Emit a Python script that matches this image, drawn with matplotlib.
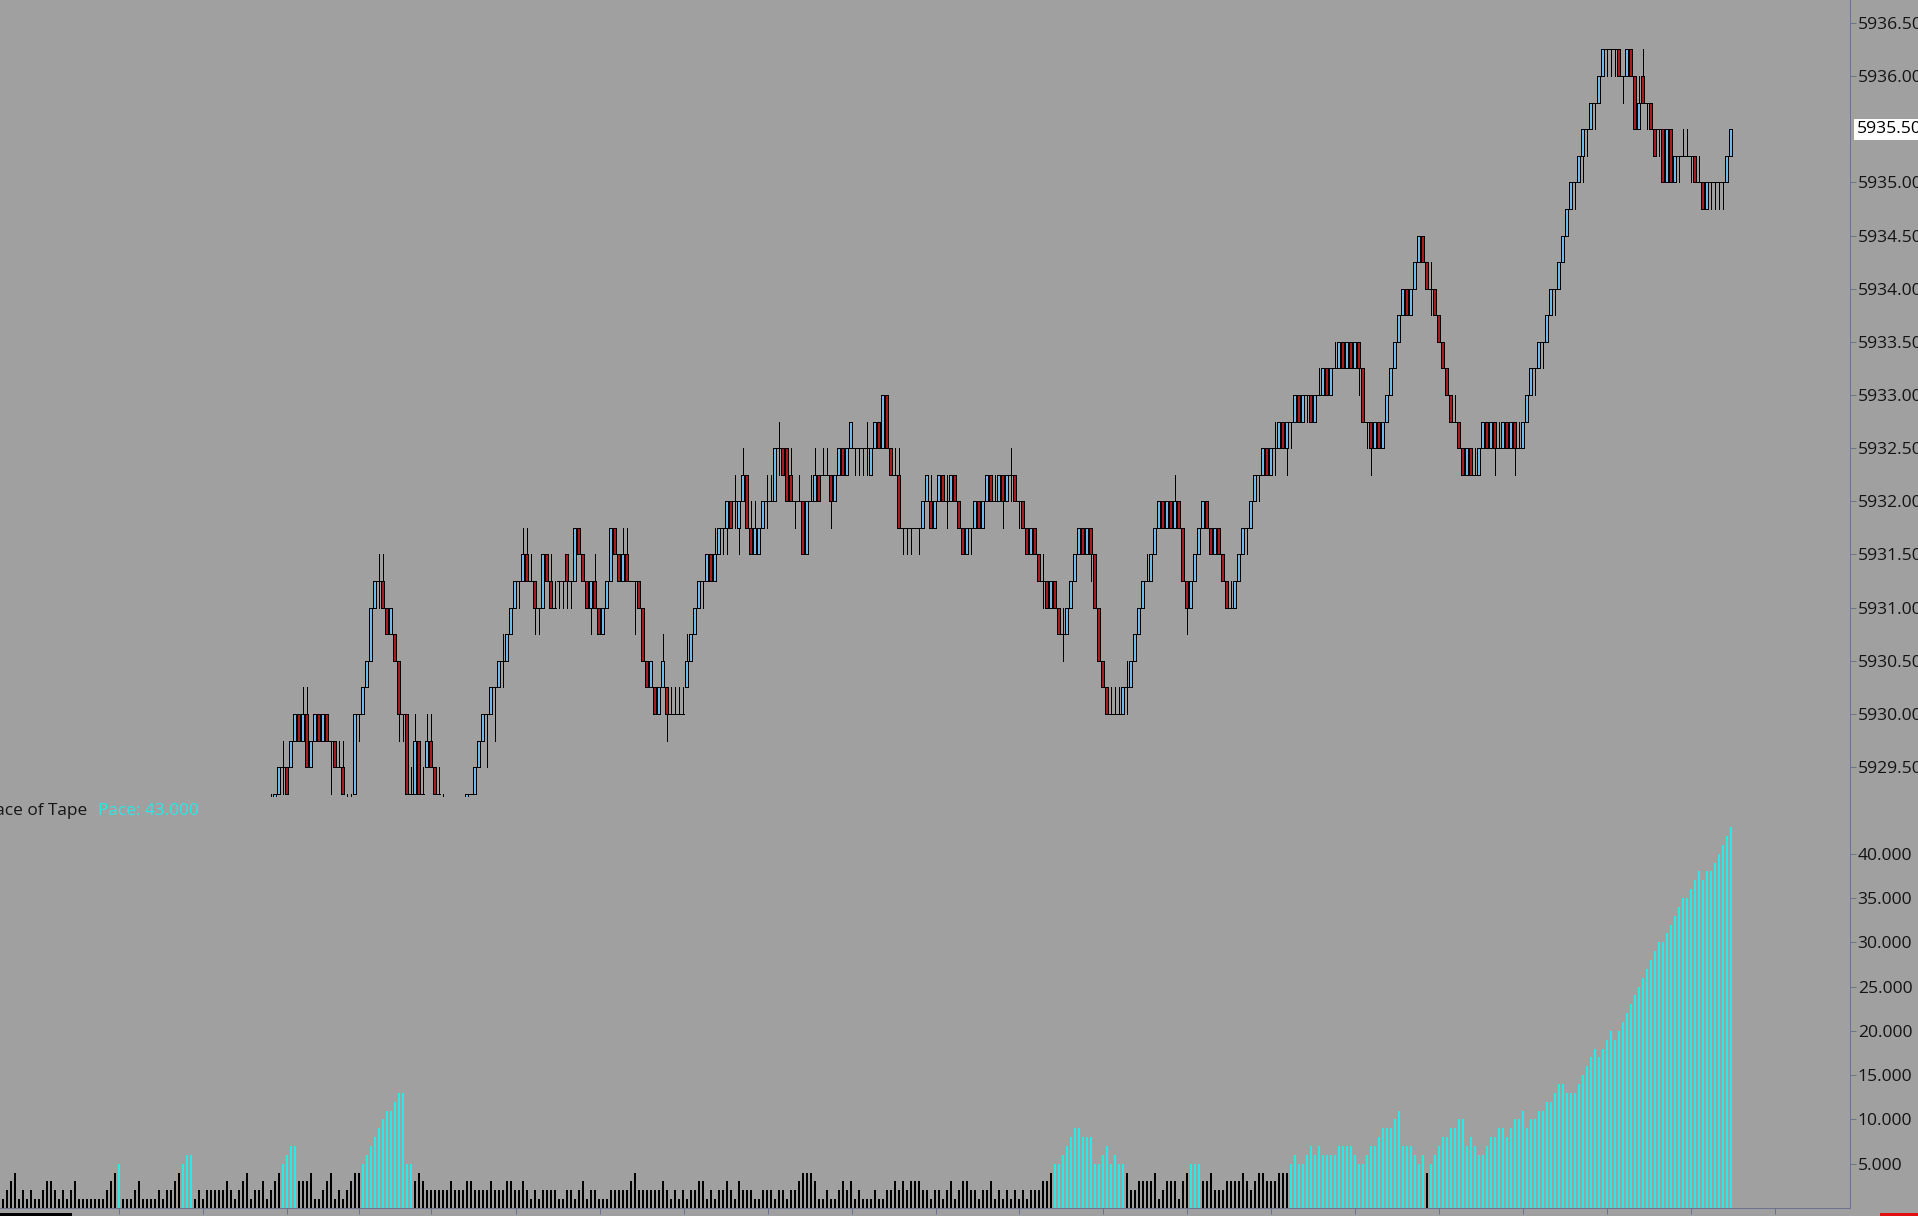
import matplotlib
matplotlib.use("Agg")
import matplotlib.pyplot as plt
from matplotlib.patches import Rectangle
import numpy as np

W, H = 1918, 1216
BG = "#a0a0a0"
AXIS = "#6b7391"
UP = "#74b8e8"
DOWN = "#a81c1c"
CYAN = "#2de6e6"

plt.rcParams['font.family'] = ['Open Sans', 'DejaVu Sans']

BASE = 5929.25
TICK = 0.25
FIRST_PRICE_BAR = 67
last_price = 5935.50

# price bars, in ticks above 5929.25 (bars from index 67 on)
bar_open = [
    -1, -1, 0, 1, 1, 1, 2, 3, 2, 3, 1, 2, 3, 2, 3, 2, 2, 1, 1, -1,
    -1, 0, 3, 3, 4, 5, 7, 8, 8, 7, 6, 6, 5, 3, 3, 0, 0, 2, 0, 1,
    2, 1, 0, -1, -2, -2, -3, -2, -2, -1, 0, 0, 1, 2, 3, 3, 4, 4, 5, 5,
    6, 7, 8, 8, 9, 8, 8, 7, 7, 9, 8, 7, 8, 8, 9, 8, 8, 10, 9, 8,
    7, 8, 7, 6, 7, 8, 10, 9, 8, 9, 8, 8, 8, 7, 5, 4, 4, 3, 4, 4,
    3, 3, 3, 3, 4, 5, 6, 7, 8, 8, 9, 8, 9, 10, 10, 11, 11, 10, 11, 12,
    10, 9, 9, 10, 11, 11, 11, 13, 13, 13, 12, 11, 11, 11, 9, 11, 11, 12, 12, 12,
    12, 11, 12, 13, 12, 13, 13, 13, 13, 13, 12, 13, 14, 13, 15, 13, 12, 12, 10, 10,
    10, 10, 10, 10, 11, 11,
    10, 11, 12, 11, 11, 12, 11, 10, 9, 10, 10, 11, 10, 11, 12, 11, 11, 12, 11, 12,
    12, 11, 11, 10, 9, 10, 9, 8, 8, 7, 8, 7, 6, 6, 7, 8, 9, 10, 9, 10,
    9, 7, 5, 4, 3, 3, 3, 3, 4, 4, 5, 6, 7, 8, 8, 9, 10, 11, 10, 11,
    10, 11, 10, 8, 7, 8, 9, 10, 11, 10, 9, 10, 9, 8, 7, 7, 8, 9, 10, 10,
    11, 12, 12, 13, 12, 13, 13, 14, 13, 14, 14, 15, 14, 15, 15, 14, 15, 15, 16, 15,
    16, 16, 17, 16, 17, 16, 17, 16, 14, 14, 13, 14, 13, 14, 15, 16, 17, 18, 19, 18,
    19, 20, 21, 20, 19, 19, 18, 17, 16, 15, 14, 14, 13, 12, 13, 12, 12, 13, 14, 13,
    14, 13, 13, 14, 13, 14, 13, 13, 14, 15, 16, 16, 17, 17, 18, 19, 19, 20, 21, 22,
    23, 23, 24, 25, 25, 26, 26, 27, 28, 28, 28, 28, 27, 27, 28, 27, 25, 27, 26, 26,
    25, 25, 25, 23, 25, 23, 24, 24, 24, 24, 24, 23, 23, 22, 23, 23, 23, 23, 23, 24,
]
bar_close = [
    -1, 0, 1, 1, 0, 2, 3, 2, 3, 1, 2, 3, 2, 3, 2, 2, 1, 1, 0, -1,
    -1, 3, 3, 4, 5, 7, 8, 8, 7, 6, 7, 5, 3, 3, 0, 0, 2, 0, 0, 2,
    1, 0, 0, -1, -2, -3, -2, -2, -1, 0, 0, 1, 2, 3, 3, 4, 4, 5, 5, 6,
    7, 8, 8, 9, 8, 8, 7, 7, 9, 8, 7, 7, 8, 8, 8, 8, 10, 9, 8, 7,
    8, 7, 6, 7, 8, 10, 9, 8, 9, 8, 8, 8, 7, 5, 4, 5, 3, 4, 5, 3,
    3, 3, 3, 3, 5, 6, 7, 8, 8, 9, 8, 9, 10, 10, 11, 10, 11, 11, 12, 10,
    9, 10, 10, 11, 11, 11, 13, 13, 12, 11, 11, 11, 11, 9, 11, 11, 12, 11, 12, 12,
    11, 12, 13, 12, 13, 14, 13, 13, 13, 13, 13, 14, 13, 15, 13, 12, 12, 10, 10, 10,
    10, 10, 10, 11, 12, 10,
    11, 12, 11, 11, 12, 11, 10, 9, 10, 10, 11, 10, 11, 12, 11, 11, 12, 11, 12, 12,
    11, 11, 10, 9, 10, 9, 8, 8, 7, 8, 7, 6, 6, 7, 8, 9, 10, 9, 10, 9,
    7, 5, 4, 3, 3, 3, 3, 4, 4, 5, 6, 7, 8, 8, 9, 10, 11, 10, 11, 10,
    11, 10, 8, 7, 8, 9, 10, 11, 10, 9, 10, 9, 8, 7, 7, 8, 9, 10, 10, 11,
    12, 12, 13, 12, 13, 13, 14, 13, 14, 14, 15, 14, 15, 15, 14, 15, 15, 16, 15, 16,
    16, 17, 16, 17, 16, 17, 16, 14, 14, 13, 14, 13, 14, 15, 16, 17, 18, 19, 18, 19,
    20, 21, 20, 19, 19, 18, 17, 16, 15, 14, 14, 13, 12, 13, 12, 12, 13, 14, 13, 14,
    13, 13, 14, 13, 14, 13, 13, 14, 15, 16, 16, 17, 17, 18, 19, 19, 20, 21, 22, 23,
    23, 24, 25, 25, 26, 26, 27, 28, 28, 28, 28, 27, 27, 28, 27, 25, 26, 26, 26, 25,
    24, 25, 23, 25, 23, 24, 24, 24, 24, 24, 23, 23, 22, 23, 23, 23, 23, 23, 24, 25,
]
bar_high = [
    0, 0, 1, 2, 1, 2, 3, 3, 4, 4, 2, 3, 3, 3, 3, 2, 2, 2, 2, 0,
    0, 3, 3, 4, 5, 7, 8, 9, 9, 7, 7, 6, 5, 3, 3, 1, 3, 2, 1, 3,
    3, 1, 1, 0, -1, -1, -2, -1, -1, 0, 0, 1, 2, 3, 3, 4, 4, 5, 6, 6,
    7, 8, 8, 10, 10, 9, 8, 7, 9, 9, 9, 8, 8, 8, 9, 8, 10, 10, 9, 8,
    8, 9, 7, 7, 8, 10, 10, 9, 10, 10, 8, 8, 8, 7, 5, 5, 4, 4, 6, 4,
    4, 4, 4, 4, 6, 6, 7, 8, 8, 9, 9, 10, 10, 10, 11, 11, 12, 11, 13, 12,
    11, 11, 10, 11, 12, 12, 13, 14, 13, 13, 13, 11, 12, 11, 11, 12, 13, 12, 13, 13,
    12, 12, 13, 13, 13, 14, 13, 13, 13, 14, 13, 14, 14, 15, 15, 13, 13, 13, 10, 10,
    10, 10, 10, 11, 12, 12,
    11, 12, 12, 12, 12, 12, 11, 10, 10, 10, 11, 11, 11, 12, 12, 12, 12, 12, 12, 13,
    12, 11, 11, 10, 10, 10, 9, 9, 8, 8, 8, 7, 7, 7, 8, 9, 10, 10, 10, 10,
    9, 7, 5, 4, 4, 4, 4, 4, 5, 5, 6, 7, 8, 9, 9, 10, 11, 11, 11, 11,
    12, 11, 10, 8, 8, 9, 10, 11, 11, 10, 10, 10, 9, 8, 8, 8, 9, 10, 10, 11,
    12, 12, 13, 13, 13, 14, 14, 14, 14, 14, 15, 15, 15, 15, 15, 15, 16, 16, 16, 16,
    17, 17, 17, 17, 17, 17, 17, 16, 14, 14, 14, 14, 14, 15, 16, 17, 18, 19, 19, 19,
    20, 21, 21, 20, 20, 19, 18, 17, 16, 15, 15, 14, 13, 13, 13, 13, 13, 14, 14, 14,
    14, 14, 14, 14, 14, 14, 14, 14, 15, 16, 16, 17, 17, 18, 19, 19, 20, 21, 22, 23,
    23, 24, 25, 25, 26, 26, 27, 28, 28, 28, 28, 28, 27, 28, 28, 27, 27, 28, 26, 26,
    25, 25, 25, 25, 25, 24, 24, 25, 25, 24, 24, 24, 23, 23, 23, 23, 23, 23, 24, 25,
]
bar_low = [
    -2, -1, 0, 0, 0, 1, 2, 2, 2, 1, 1, 2, 2, 2, 2, 0, 1, 1, 0, -2,
    -1, 0, 2, 3, 4, 5, 7, 7, 7, 6, 6, 5, 2, 2, 0, 0, 0, 0, 0, 1,
    1, 0, 0, -2, -3, -3, -3, -3, -2, -1, 0, 0, 1, 2, 1, 3, 2, 4, 4, 5,
    6, 7, 7, 8, 8, 8, 6, 6, 7, 8, 7, 7, 7, 7, 7, 7, 8, 9, 8, 7,
    6, 7, 6, 6, 7, 8, 9, 8, 8, 8, 8, 6, 7, 5, 4, 4, 3, 3, 4, 2,
    3, 3, 3, 3, 4, 5, 6, 7, 7, 8, 8, 8, 9, 9, 9, 10, 10, 9, 11, 10,
    9, 9, 9, 10, 10, 11, 11, 12, 12, 11, 11, 10, 11, 9, 9, 11, 11, 11, 12, 12,
    10, 11, 12, 12, 12, 13, 12, 12, 12, 12, 12, 13, 13, 13, 13, 12, 12, 10, 9, 9,
    9, 10, 9, 10, 11, 10,
    10, 11, 11, 10, 11, 11, 10, 9, 9, 9, 10, 10, 10, 11, 11, 11, 11, 10, 11, 11,
    11, 10, 10, 9, 9, 9, 8, 7, 7, 7, 7, 6, 5, 6, 7, 8, 9, 9, 9, 8,
    7, 5, 4, 3, 3, 3, 3, 3, 3, 4, 5, 6, 7, 8, 8, 9, 10, 10, 10, 10,
    10, 10, 8, 6, 7, 8, 9, 10, 10, 9, 9, 9, 8, 7, 7, 7, 8, 9, 9, 10,
    11, 11, 12, 12, 12, 12, 13, 13, 12, 13, 14, 14, 14, 14, 14, 14, 15, 15, 15, 15,
    16, 16, 16, 16, 16, 16, 15, 14, 13, 12, 13, 13, 13, 14, 15, 16, 17, 18, 18, 18,
    19, 20, 20, 19, 18, 18, 17, 16, 15, 14, 14, 13, 12, 12, 12, 12, 12, 13, 13, 13,
    12, 13, 13, 13, 13, 12, 13, 13, 14, 15, 15, 16, 16, 17, 18, 18, 19, 20, 21, 22,
    22, 23, 23, 24, 25, 25, 26, 27, 27, 27, 27, 27, 26, 27, 27, 25, 25, 26, 25, 25,
    24, 24, 23, 23, 23, 23, 23, 24, 24, 23, 23, 23, 22, 22, 22, 22, 22, 22, 23, 24,
]

pace = [
    1, 2, 3, 4, 1, 2, 1, 2, 1, 1, 2, 3, 3, 2, 1, 2, 1, 2, 3, 1,
    1, 1, 1, 1, 1, 1, 2, 3, 4, 5, 1, 1, 1, 2, 3, 1, 1, 1, 1, 2,
    1, 2, 2, 3, 4, 5, 6, 6, 1, 2, 1, 2, 2, 2, 2, 2, 3, 2, 1, 2,
    3, 4, 1, 2, 2, 3, 1, 2, 3, 4, 5, 6, 7, 7, 3, 3, 3, 4, 1, 1,
    2, 3, 4, 1, 2, 1, 2, 3, 4, 4, 5, 6, 7, 8, 9, 10, 11, 11, 12, 13,
    13, 5, 5, 3, 4, 3, 2, 2, 2, 2, 2, 2, 3, 2, 2, 2, 3, 3, 2, 2,
    2, 2, 3, 2, 2,
    2, 3, 3, 2, 2, 3, 2, 1, 2, 1, 2, 2, 2, 2, 1, 1, 2, 2, 1, 2,
    3, 1, 2, 2, 1, 1, 1, 2, 2, 2, 2, 2, 3, 4, 2, 2, 2, 2, 2, 2,
    3, 2, 1, 2, 1, 2, 1, 2, 2, 3, 3, 1, 2, 1, 2, 2, 3, 2, 1, 3,
    2, 2, 2, 1, 1, 2, 2, 2, 1, 2, 2, 1, 2, 2, 3, 4, 4, 4, 3, 1,
    1, 2, 1, 1, 2, 3, 2, 3, 1, 2, 1, 1, 1, 2, 1, 1, 2, 2, 3, 2,
    3, 2, 3, 3, 3, 2, 2, 1, 2, 2, 1, 2, 3, 1, 2, 3, 3, 2, 2, 1,
    2, 2, 3, 1, 2,
    1, 2, 1, 2, 1, 2, 1, 2, 2, 2, 3, 3, 4, 5, 5, 6, 7, 8, 9, 9,
    8, 8, 8, 5, 5, 6, 7, 5, 6, 5, 5, 4, 2, 2, 3, 3, 3, 3, 4, 1,
    2, 3, 3, 3, 1, 3, 4, 5, 5, 5, 3, 3, 4, 2, 2, 2, 3, 3, 3, 3,
    4, 3, 2, 3, 4, 4, 3, 3, 3, 4, 4, 4, 5, 6, 5, 5, 6, 7, 6, 7,
    6, 6, 6, 6, 7, 7, 7, 7, 6, 5, 5, 6, 7, 7, 8, 9, 9, 9, 10, 11,
    7, 7, 7, 6, 5, 6, 4, 5, 6, 7, 8, 8, 9, 9, 10, 10, 7, 8, 7, 6,
    6, 7, 8, 8, 9,
    9, 8, 9, 10, 10, 11, 9, 10, 10, 11, 11, 12, 12, 13, 14, 14, 13, 13, 13, 14,
    15, 16, 17, 18, 17, 18, 19, 20, 19, 20, 21, 22, 23, 24, 25, 26, 27, 28, 29, 30,
    30, 31, 32, 33, 34, 35, 35, 36, 37, 38, 37, 38, 38, 39, 40, 41, 42, 43,
]
PACE_ALERT = 5

price_ticks = [5929.5, 5930.0, 5930.5, 5931.0, 5931.5, 5932.0, 5932.5,
               5933.0, 5933.5, 5934.0, 5934.5, 5935.0, 5936.0, 5936.5]
pace_ticks = [5, 10, 15, 20, 25, 30, 35, 40]
time_tick_bars = [29.1, 50.1, 71.1, 89.1, 107.1, 128.4, 149.4, 170.4, 191.4,
                  212.4, 233.4, 254.1, 275.1, 296.1, 317.1, 338.1, 359.1,
                  380.1, 401.1, 422.1, 443.1]

fig = plt.figure(figsize=(W / 100, H / 100), dpi=100, facecolor=BG)


def px_axes(left, top, right, bottom):
    return fig.add_axes([left / W, 1 - bottom / H, (right - left) / W, (bottom - top) / H])


ax = px_axes(0, 0, 1850, 797)
axp = px_axes(0, 797, 1850, 1208)
PX = 0.72  # one pixel in points

xlim = (-0.625, 461.875)
for a in (ax, axp):
    a.set_facecolor(BG)
    a.set_xlim(*xlim)
    for s in ("top", "left"):
        a.spines[s].set_visible(False)
    a.spines["right"].set_color(AXIS)
    a.spines["right"].set_linewidth(PX)
    a.yaxis.tick_right()
    a.tick_params(axis="y", direction="out", length=4, width=PX, color=AXIS,
                  labelcolor="#141414", labelsize=12.6, pad=1.5)
ax.spines["bottom"].set_visible(False)
axp.spines["bottom"].set_color(AXIS)
axp.spines["bottom"].set_linewidth(PX)

# price panel
ax.set_ylim(BASE - 0.031, BASE + 29.86 * TICK)
k = np.arange(FIRST_PRICE_BAR, FIRST_PRICE_BAR + len(bar_close))
o = BASE + TICK * np.array(bar_open)
c = BASE + TICK * np.array(bar_close)
hi = BASE + TICK * np.array(bar_high)
lo = BASE + TICK * np.array(bar_low)
ax.vlines(k, lo, hi, colors="black", linewidth=PX, antialiased=False, zorder=2)
body_col = [UP if cc > oo else (DOWN if cc < oo else "black") for oo, cc in zip(o, c)]
ax.bar(k, np.abs(c - o), bottom=np.minimum(o, c), width=0.6, color=body_col,
       edgecolor="black", linewidth=PX, antialiased=False, zorder=3)
ax.set_xticks([])
ax.set_yticks(price_ticks)
ax.set_yticklabels([f"{v:.2f}" for v in price_ticks])
ax.annotate(f"{last_price:.2f}", xy=(1.0, last_price), xycoords=ax.get_yaxis_transform(),
            xytext=(5.0, 0), textcoords="offset points",
            ha="left", va="center", fontsize=12.6, color="black",
            bbox=dict(boxstyle="square,pad=0.15", facecolor="white", edgecolor="none"),
            annotation_clip=False, zorder=5)

# pace of tape panel
axp.set_ylim(0, 46.4)
kp = np.arange(len(pace))
pace_col = [CYAN if v >= PACE_ALERT else "black" for v in pace]
axp.bar(kp, pace, width=0.5, color=pace_col, linewidth=0, antialiased=False)
axp.set_yticks(pace_ticks)
axp.set_yticklabels([f"{v:.3f}" for v in pace_ticks])
axp.set_xticks(time_tick_bars)
axp.tick_params(axis="x", direction="out", length=4, width=PX, color=AXIS,
                labelbottom=False)

fig.text(87 / W, 1 - 815 / H, "Pace of Tape", ha="right", va="baseline",
         fontsize=12.4, color="#161616")
fig.text(98 / W, 1 - 815 / H, f"Pace: {pace[-1]:.3f}", ha="left", va="baseline",
         fontsize=12.4, color=CYAN)

# strip under the panels
fig.patches.append(Rectangle((0, 0), 72 / W, 3 / H, transform=fig.transFigure,
                             facecolor="black", edgecolor="none"))
fig.patches.append(Rectangle((1880 / W, 0), 38 / W, 3 / H, transform=fig.transFigure,
                             facecolor="#e01010", edgecolor="none"))

fig.savefig("out.png", dpi=100, facecolor=BG)
